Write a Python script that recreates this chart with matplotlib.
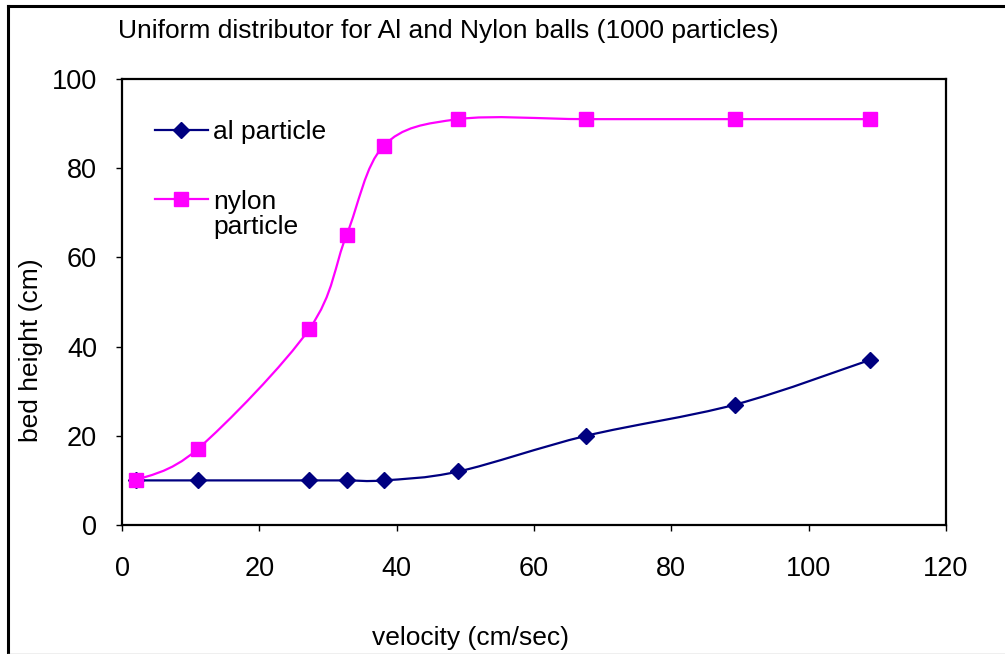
import matplotlib.pyplot as plt
import numpy as np
from matplotlib.path import Path
from matplotlib.patches import PathPatch
from matplotlib.lines import Line2D

plt.rcParams['font.family'] = ['Liberation Sans', 'DejaVu Sans']

velocity_al = [2, 11, 27.3, 32.7, 38.1, 49, 67.6, 89.3, 108.9]
height_al = [10, 10, 10, 10, 10, 12, 20, 27, 37]
velocity_nylon = [2, 11, 27.3, 32.7, 38.1, 49, 67.6, 89.3, 108.9]
height_nylon = [10, 17, 44, 65, 85, 91, 91, 91, 91]

x_ticks = [0, 20, 40, 60, 80, 100, 120]
y_ticks = [0, 20, 40, 60, 80, 100]

NAVY = '#000080'
MAGENTA = '#FF00FF'
FS = 19


def smooth_path(xs, ys):
    # Excel style smoothing: cubic Bezier segments with Catmull-Rom tangents
    pts = np.column_stack([xs, ys]).astype(float)
    n = len(pts)
    verts = [pts[0]]
    codes = [Path.MOVETO]
    for i in range(n - 1):
        p0 = pts[max(i - 1, 0)]
        p1 = pts[i]
        p2 = pts[i + 1]
        p3 = pts[min(i + 2, n - 1)]
        c1 = p1 + (p2 - p0) / 6.0
        c2 = p2 - (p3 - p1) / 6.0
        verts += [c1, c2, p2]
        codes += [Path.CURVE4] * 3
    return Path(verts, codes)


fig = plt.figure(figsize=(10.05, 6.54), dpi=100)
ax = fig.add_axes([122 / 1005, 1 - 525 / 654, 824 / 1005, 446 / 654])

for xs, ys, col in [(velocity_al, height_al, NAVY), (velocity_nylon, height_nylon, MAGENTA)]:
    ax.add_patch(PathPatch(smooth_path(xs, ys), facecolor='none', edgecolor=col, lw=1.6, zorder=2))

ax.plot(velocity_al, height_al, ls='none', marker='D', color=NAVY, ms=8, zorder=3)
ax.plot(velocity_nylon, height_nylon, ls='none', marker='s', color=MAGENTA, ms=10, zorder=4)

ax.set_xlim(0, 120)
ax.set_ylim(0, 100)
ax.set_xticks(x_ticks)
ax.set_yticks(y_ticks)
ax.tick_params(direction='out', length=4.5, width=1, labelsize=FS + 0.5, colors='black')
ax.tick_params(axis='x', pad=18)
ax.tick_params(axis='y', pad=13.5)
for sp in ax.spines.values():
    sp.set_linewidth(1.6)

# legend entries: short line with marker, label to the right
ax.plot([0.040, 0.104], [0.8857, 0.8857], color=NAVY, lw=1.6, transform=ax.transAxes, clip_on=False)
ax.plot([0.072], [0.8857], marker='D', color=NAVY, ms=8, transform=ax.transAxes, clip_on=False)
ax.text(0.1104, 0.881, 'al particle', fontsize=FS, ha='left', va='center', transform=ax.transAxes)
ax.plot([0.040, 0.104], [0.7309, 0.7309], color=MAGENTA, lw=1.6, transform=ax.transAxes, clip_on=False)
ax.plot([0.072], [0.7309], marker='s', color=MAGENTA, ms=10, transform=ax.transAxes, clip_on=False)
ax.text(0.1104, 0.6962, 'nylon\nparticle', fontsize=FS, ha='left', va='center',
        linespacing=1.1, transform=ax.transAxes)

fig.text(118 / 1005, 1 - 38 / 654, 'Uniform distributor for Al and Nylon balls (1000 particles)',
         fontsize=FS, ha='left', va='baseline')
fig.text(470 / 1005, 1 - 645 / 654, 'velocity (cm/sec)', fontsize=FS, ha='center', va='baseline')
fig.text(31 / 1005, 1 - 350 / 654, 'bed height (cm)', fontsize=FS, ha='center', va='center',
         rotation=90)

# chart border
fig.add_artist(Line2D([8 / 1005, 8 / 1005], [0, 1 - 6 / 654], color='black', lw=2.2,
                      transform=fig.transFigure))
fig.add_artist(Line2D([8 / 1005, 1], [1 - 6 / 654, 1 - 6 / 654], color='black', lw=2.2,
                      transform=fig.transFigure))
fig.add_artist(Line2D([8 / 1005, 1], [0.5 / 654, 0.5 / 654], color='#b0b0b0', lw=1,
                      transform=fig.transFigure))

fig.savefig('out.png', dpi=100)
